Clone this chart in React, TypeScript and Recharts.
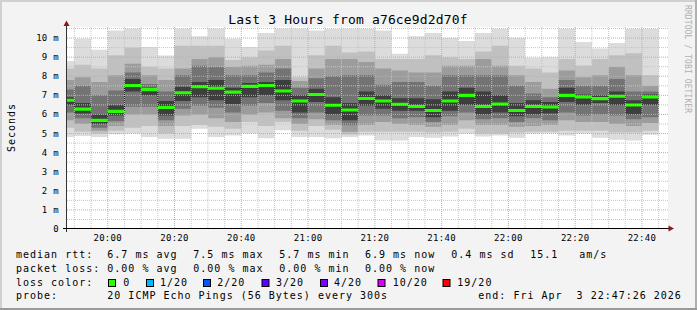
import React from 'react';
import { ComposedChart, Area, Line, XAxis, YAxis, CartesianGrid } from 'recharts';

const FONT = '"DejaVu Sans Mono", monospace';

// 5-minute columns (start times)
const columnStarts = ['19:45','19:50','19:55','20:00','20:05','20:10','20:15','20:20','20:25','20:30','20:35','20:40','20:45','20:50','20:55','21:00','21:05','21:10','21:15','21:20','21:25','21:30','21:35','21:40','21:45','21:50','21:55','22:00','22:05','22:10','22:15','22:20','22:25','22:30','22:35','22:40'];
const lastColumnEnd = '22:45';

// ping distribution per column (ms): min, quantiles, median, max
const minRtt = [4.82,4.87,4.82,4.96,5.0,4.82,4.73,4.73,5.25,4.82,4.9,5.0,4.75,5.17,4.82,4.82,4.75,4.82,4.9,4.64,4.64,4.82,4.78,4.85,4.99,4.85,4.9,4.78,4.99,5.02,4.9,4.99,4.78,4.67,4.64,4.94];
const q1Rtt = [5.3,5.1,5.0,5.15,5.3,5.4,5.0,5.4,5.45,5.35,5.25,5.6,5.4,5.6,5.15,5.4,5.2,4.95,5.1,5.1,5.1,5.1,5.05,5.1,5.25,5.0,5.0,5.05,5.1,5.1,5.15,5.15,5.15,5.05,5.05,5.15];
const q2Rtt = [5.7,5.5,5.15,5.4,6.0,6.0,5.4,5.95,6.0,5.8,5.6,6.0,6.1,5.8,5.5,5.75,5.45,5.1,5.45,5.6,5.5,5.45,5.35,5.45,5.7,5.45,5.45,5.35,5.4,5.45,5.7,5.6,5.6,5.5,5.4,5.55];
const q3Rtt = [6.1,5.8,5.3,5.65,6.4,6.4,5.7,6.3,6.45,6.35,6.1,6.45,6.6,6.2,5.8,6.1,5.7,5.43,5.95,5.95,5.8,5.85,5.6,5.9,6.1,5.75,5.8,5.6,5.8,5.7,6.1,5.95,6.0,5.95,5.75,5.85];
const q4Rtt = [6.5,6.05,5.5,5.95,7.2,7.0,5.95,6.7,6.9,6.75,6.55,6.9,7.0,6.75,6.1,6.65,6.0,5.7,6.45,6.3,6.2,6.2,5.85,6.2,6.5,6.0,6.1,5.9,6.0,6.05,6.65,6.5,6.6,6.48,6.0,6.5];
const medianRtt = [6.74,6.28,5.69,6.16,7.52,7.30,6.36,7.14,7.45,7.37,7.17,7.47,7.52,7.23,6.70,7.04,6.48,6.23,6.84,6.70,6.53,6.42,6.21,6.70,7.00,6.42,6.55,6.21,6.42,6.39,7.00,6.91,6.83,6.95,6.49,6.91];
const q5Rtt = [6.9,6.6,6.0,6.5,7.85,7.4,6.7,7.45,7.7,7.8,7.4,7.65,7.7,7.8,7.0,7.35,6.9,6.6,7.2,7.0,6.85,6.85,6.8,7.2,7.4,7.2,7.0,6.6,6.75,6.65,7.4,7.05,7.0,7.2,6.75,7.05];
const q6Rtt = [7.3,7.5,7.0,7.26,8.2,7.6,7.2,8.05,8.55,8.5,8.05,8.05,8.2,8.4,7.4,7.9,8.0,8.05,8.05,7.55,7.7,7.7,7.5,8.05,8.05,8.05,8.05,7.5,7.1,6.9,7.8,7.5,7.5,7.85,7.2,7.2];
const q7Rtt = [7.8,7.95,7.7,8.05,8.66,8.05,7.8,8.4,8.9,9.0,8.5,8.55,8.6,8.9,7.75,8.4,8.9,8.9,8.75,8.4,8.3,8.2,8.2,8.55,8.55,8.9,8.55,8.05,7.7,7.35,8.3,7.95,8.05,8.5,8.05,7.5];
const q8Rtt = [8.4,8.6,8.4,9.1,9.5,8.5,8.4,9.6,9.6,9.6,8.85,9.0,9.35,9.6,7.95,9.1,9.6,9.25,9.3,8.9,8.9,8.9,9.1,9.0,8.9,9.3,9.6,8.55,8.4,8.2,8.9,8.57,8.9,9.1,9.2,8.05];
const maxRtt = [8.8,9.97,9.39,10.4,10.5,9.53,9.09,10.5,10.09,10.5,9.97,9.53,10.27,10.5,10.5,10.4,10.47,10.5,10.49,10.4,9.18,10.09,10.26,10.02,9.85,10.27,10.49,10.02,8.97,9.0,10.49,9.8,9.45,9.74,10.49,10.49];

const xTickLabels = ['20:00','20:20','20:40','21:00','21:20','21:40','22:00','22:20','22:40'];
const yTickValues = [0,1,2,3,4,5,6,7,8,9,10];

const legendRtt = ['6.7 ms avg','7.5 ms max','5.7 ms min','6.9 ms now','0.4 ms sd'];
const legendLoss = ['0.00 % avg','0.00 % max','0.00 % min','0.00 % now'];
const lossLabels = ['0','1/20','2/20','3/20','4/20','10/20','19/20'];
const lossColors = ['#26ff00','#00b8ff','#0059ff','#5e00ff','#7e00ff','#dd00ff','#ff0000'];

const toMin = (s: string) => {
  const [h, m] = s.split(':').map(Number);
  return h * 60 + m - 20 * 60;
};

const rows: any[] = columnStarts.map((s, i) => ({
  t: toMin(s),
  lo: minRtt[i], q1: q1Rtt[i], q2: q2Rtt[i], q3: q3Rtt[i], q4: q4Rtt[i],
  med: medianRtt[i],
  q5: q5Rtt[i], q6: q6Rtt[i], q7: q7Rtt[i], q8: q8Rtt[i], hi: maxRtt[i],
}));
rows.push({ ...rows[rows.length - 1], t: toMin(lastColumnEnd) });

const xTicks = xTickLabels.map(toMin);
const majorX = xTicks;
const minorX: number[] = [];
for (let m = -10; m <= 165; m += 5) if (m % 20 !== 0) minorX.push(m);
const majorY = yTickValues.filter((v) => v > 0);
const minorY = yTickValues.map((v) => v + 0.5);

const bands = [
  { lo: 'lo', hi: 'hi', fill: '#dcdcdc' },
  { lo: 'q1', hi: 'q8', fill: '#c0c0c0' },
  { lo: 'q2', hi: 'q7', fill: '#9c9c9c' },
  { lo: 'q3', hi: 'q6', fill: '#737373' },
  { lo: 'q4', hi: 'q5', fill: '#3e3e3e' },
];
const MEDIAN_HALF = 0.08;

const XTick = (props: any) => {
  const { x, y, payload } = props;
  const idx = xTicks.indexOf(payload.value);
  return (
    <text x={x} y={y + 11.7} textAnchor="middle" fontFamily={FONT} fontSize={9} letterSpacing={0.3} fill="#000">
      {idx >= 0 ? xTickLabels[idx] : ''}
    </text>
  );
};

const YTick = (props: any) => {
  const { x, y, payload } = props;
  const v = payload.value;
  return (
    <text x={x} y={y + 3} textAnchor="end" fontFamily={FONT} fontSize={9} letterSpacing={0.3} fill="#000">
      {v === 0 ? '0' : `${v} m`}
    </text>
  );
};

const legendX = [107.3, 193.3, 279.3, 365, 451.3];
const boxX = [108.5, 146.5, 203.5, 262, 320.5, 378, 443];
const boxLabelX = [123.3, 160, 217.3, 276, 334, 392.7, 457.3];

export default function App() {
  const txt = { fontFamily: FONT, fontSize: 10, letterSpacing: 1, fill: '#000' } as any;
  return (
    <div style={{ position: 'absolute', left: 0, top: 0, width: 697, height: 310, background: '#f3f3f3', overflow: 'hidden' }}>
      <div style={{ position: 'absolute', left: 0, top: 0 }}>
        <ComposedChart width={697} height={310} data={rows} margin={{ top: 27, right: 29, bottom: 61, left: 7 }}>
          <CartesianGrid horizontal={false} vertical={false} fill="#ffffff" />
          <XAxis
            dataKey="t"
            type="number"
            domain={[-12.2, 167.8]}
            allowDataOverflow
            ticks={xTicks}
            height={20}
            axisLine={false}
            tickLine={false}
            tickSize={0}
            tickMargin={0}
            tick={<XTick />}
            interval={0}
          />
          <YAxis
            type="number"
            domain={[0, 10.58]}
            allowDataOverflow
            ticks={yTickValues}
            width={60}
            axisLine={false}
            tickLine={false}
            tickSize={0}
            tickMargin={8}
            tick={<YTick />}
            interval={0}
          />
          {bands.map((b, i) => (
            <Area
              key={'band' + i}
              type="stepAfter"
              dataKey={(d: any) => [d[b.lo], d[b.hi]]}
              stroke="none"
              fill={b.fill}
              fillOpacity={1}
              dot={false}
              activeDot={false}
              isAnimationActive={false}
            />
          ))}
          <Line
            type="stepAfter"
            dataKey="med"
            stroke="#000"
            strokeWidth={1}
            strokeDasharray="1 1"
            dot={false}
            activeDot={false}
            isAnimationActive={false}
            {...({ zIndex: 150 } as any)}
          />
          <Area
            type="stepAfter"
            dataKey={(d: any) => [d.med - MEDIAN_HALF, d.med + MEDIAN_HALF]}
            stroke="none"
            fill={lossColors[0]}
            fillOpacity={1}
            dot={false}
            activeDot={false}
            isAnimationActive={false}
            {...({ zIndex: 160 } as any)}
          />
          <CartesianGrid
            horizontalValues={minorY}
            verticalValues={minorX}
            stroke="#c4c4c4"
            strokeDasharray="1 1"
            fill="none"
            {...({ zIndex: 1000 } as any)}
          />
          <CartesianGrid
            horizontalValues={majorY}
            verticalValues={majorX}
            stroke="#e89a9a"
            strokeDasharray="1 1"
            fill="none"
            {...({ zIndex: 1001 } as any)}
          />
        </ComposedChart>
      </div>
      <svg width={697} height={310} style={{ position: 'absolute', left: 0, top: 0, pointerEvents: 'none' }}>
        <rect x={0} y={0} width={697} height={2} fill="#d0d0d0" />
        <rect x={0} y={0} width={2} height={310} fill="#d0d0d0" />
        <rect x={695} y={0} width={2} height={310} fill="#b0b0b0" />
        <rect x={0} y={308} width={697} height={2} fill="#9a9a9a" />
        <line x1={66.5} y1={23} x2={66.5} y2={232} stroke="#333" strokeWidth={1} />
        <line x1={63} y1={228.5} x2={669} y2={228.5} stroke="#000" strokeWidth={1} />
        <polygon points="63.5,26 66.5,20.5 69.5,26" fill="#8b1a1a" />
        <polygon points="668.5,225.5 674,228.5 668.5,231.5" fill="#8b1a1a" />
        <text x={348} y={24} textAnchor="middle" fontFamily={FONT} fontSize={13} letterSpacing={0.15} fill="#000">
          Last 3 Hours from a76ce9d2d70f
        </text>
        <text transform="translate(14.5,127.5) rotate(-90)" textAnchor="middle" {...txt}>Seconds</text>
        <text transform="translate(684.5,5) rotate(90)" fontFamily={FONT} fontSize={8} letterSpacing={0.1} fill="#b0b0b0">
          RRDTOOL / TOBI OETIKER
        </text>
        <text x={16} y={258.3} {...txt}>median rtt:</text>
        {legendRtt.map((s, i) => (
          <text key={'r' + i} x={legendX[i]} y={258.3} {...txt}>{s}</text>
        ))}
        <text x={530.3} y={258.3} {...txt}>15.1</text>
        <text x={579.3} y={258.3} {...txt}>am/s</text>
        <text x={16} y={271.7} {...txt}>packet loss:</text>
        {legendLoss.map((s, i) => (
          <text key={'l' + i} x={legendX[i]} y={271.7} {...txt}>{s}</text>
        ))}
        <text x={16} y={285.7} {...txt}>loss color:</text>
        {lossLabels.map((s, i) => (
          <g key={'c' + i}>
            <rect x={boxX[i]} y={279.5} width={7} height={7} fill={lossColors[i]} stroke="#000" strokeWidth={1} />
            <text x={boxLabelX[i]} y={285.7} {...txt}>{s}</text>
          </g>
        ))}
        <text x={16} y={299.3} {...txt}>probe:</text>
        <text x={107.3} y={299.3} {...txt}>20 ICMP Echo Pings (56 Bytes) every 300s</text>
        <text x={478.3} y={299.3} xmlSpace="preserve" {...txt}>end: Fri Apr  3 22:47:26 2026</text>
      </svg>
    </div>
  );
}
